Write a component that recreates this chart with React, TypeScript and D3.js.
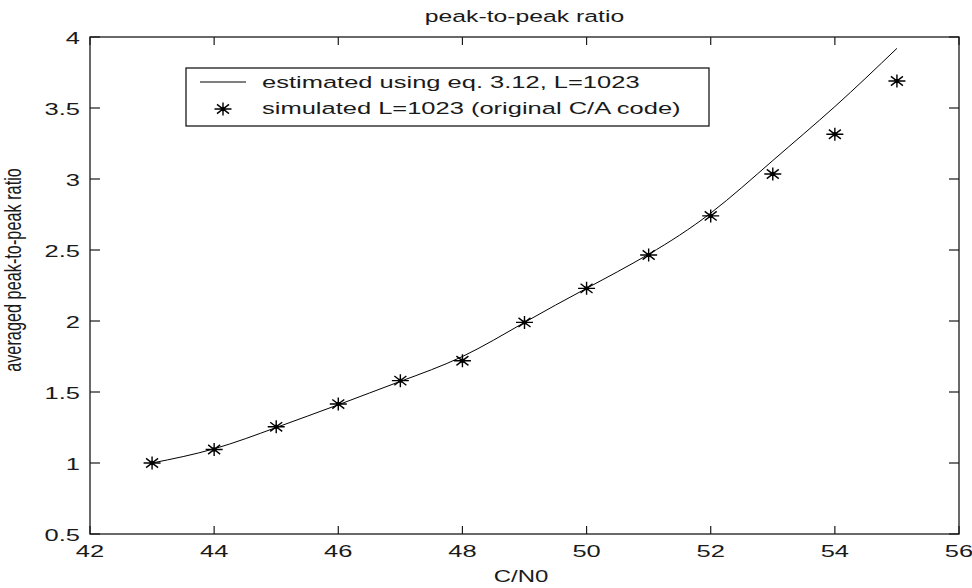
import React from "react";
import * as d3 from "d3";

const cn0 = [43, 44, 45, 46, 47, 48, 49, 50, 51, 52, 53, 54, 55];
const estimated = [1.0, 1.1, 1.25, 1.41, 1.575, 1.75, 1.99, 2.23, 2.47, 2.76, 3.13, 3.51, 3.92];
const simulated = [1.0, 1.095, 1.255, 1.415, 1.58, 1.72, 1.99, 2.23, 2.465, 2.74, 3.035, 3.315, 3.69];
const xTicks = [42, 44, 46, 48, 50, 52, 54, 56];
const yTicks = [0.5, 1, 1.5, 2, 2.5, 3, 3.5, 4];
const title = "peak-to-peak ratio";
const xLabel = "C/N0";
const yLabel = "averaged peak-to-peak ratio";
const legendLabels = ["estimated using eq. 3.12, L=1023", "simulated L=1023 (original C/A code)"];

const W = 972;
const H = 588;
const left = 90, right = 959, top = 37, bottom = 534;
const SX = 1.5;
const FONT = "'Liberation Sans', Arial, Helvetica, sans-serif";
const INK = "#1a1a1a";

function T({ x, y, anchor = "start", size = 17, children }: any) {
  return (
    <g transform={`translate(${x},${y}) scale(${SX},1)`}>
      <text textAnchor={anchor} fontFamily={FONT} fontSize={size} fill={INK}>
        {children}
      </text>
    </g>
  );
}

function Star({ cx, cy }: { cx: number; cy: number }) {
  const h = 8.5, v = 6.5, dx = 6, dy = 4.6;
  const d = `M${cx - h},${cy}H${cx + h}M${cx},${cy - v}V${cy + v}M${cx - dx},${cy - dy}L${cx + dx},${cy + dy}M${cx - dx},${cy + dy}L${cx + dx},${cy - dy}`;
  return (
    <g>
      <path d={d} stroke="#000" strokeWidth={1.4} fill="none" />
      <circle cx={cx} cy={cy} r={2.2} fill="#000" />
    </g>
  );
}

export default function App() {
  const x = d3.scaleLinear().domain([42, 56]).range([left, right]);
  const y = d3.scaleLinear().domain([0.5, 4]).range([bottom, top]);
  const line = d3
    .line<number>()
    .x((_, i) => x(cn0[i]))
    .y((d) => y(d))
    .curve(d3.curveNatural);

  return (
    <svg width={W} height={H} style={{ position: "absolute", left: 0, top: 0, background: "#fff" }}>
      <rect x={0} y={0} width={W} height={H} fill="#fff" />
      <rect x={left} y={top} width={right - left} height={bottom - top} fill="none" stroke={INK} strokeWidth={1.3} />
      {xTicks.map((t) => (
        <g key={"x" + t}>
          <line x1={x(t)} x2={x(t)} y1={bottom} y2={bottom - 8} stroke={INK} strokeWidth={1.2} />
          <line x1={x(t)} x2={x(t)} y1={top} y2={top + 8} stroke={INK} strokeWidth={1.2} />
          <T x={x(t)} y={557} anchor="middle">{t}</T>
        </g>
      ))}
      {yTicks.map((t) => (
        <g key={"y" + t}>
          <line x1={left} x2={left + 10} y1={y(t)} y2={y(t)} stroke={INK} strokeWidth={1.2} />
          <line x1={right} x2={right - 10} y1={y(t)} y2={y(t)} stroke={INK} strokeWidth={1.2} />
          <T x={80} y={y(t) + 6.5} anchor="end">{t}</T>
        </g>
      ))}
      <T x={(left + right) / 2} y={22} anchor="middle" size={16.5}>{title}</T>
      <T x={521} y={582} anchor="middle" size={16}>{xLabel}</T>
      <g transform={`translate(21,270) scale(${SX},1) rotate(-90)`}>
        <text textAnchor="middle" fontFamily={FONT} fontSize={16.3} fill={INK}>{yLabel}</text>
      </g>
      <path d={line(estimated) || ""} fill="none" stroke="#000" strokeWidth={1} />
      {simulated.map((v, i) => (
        <Star key={i} cx={x(cn0[i])} cy={y(v)} />
      ))}
      <rect x={186} y={68} width={523} height={58} fill="#fff" stroke={INK} strokeWidth={1.3} />
      <line x1={200} x2={246} y1={82} y2={82} stroke="#000" strokeWidth={1} />
      <Star cx={223} cy={109} />
      <T x={262} y={88}>{legendLabels[0]}</T>
      <T x={262} y={114}>{legendLabels[1]}</T>
    </svg>
  );
}
